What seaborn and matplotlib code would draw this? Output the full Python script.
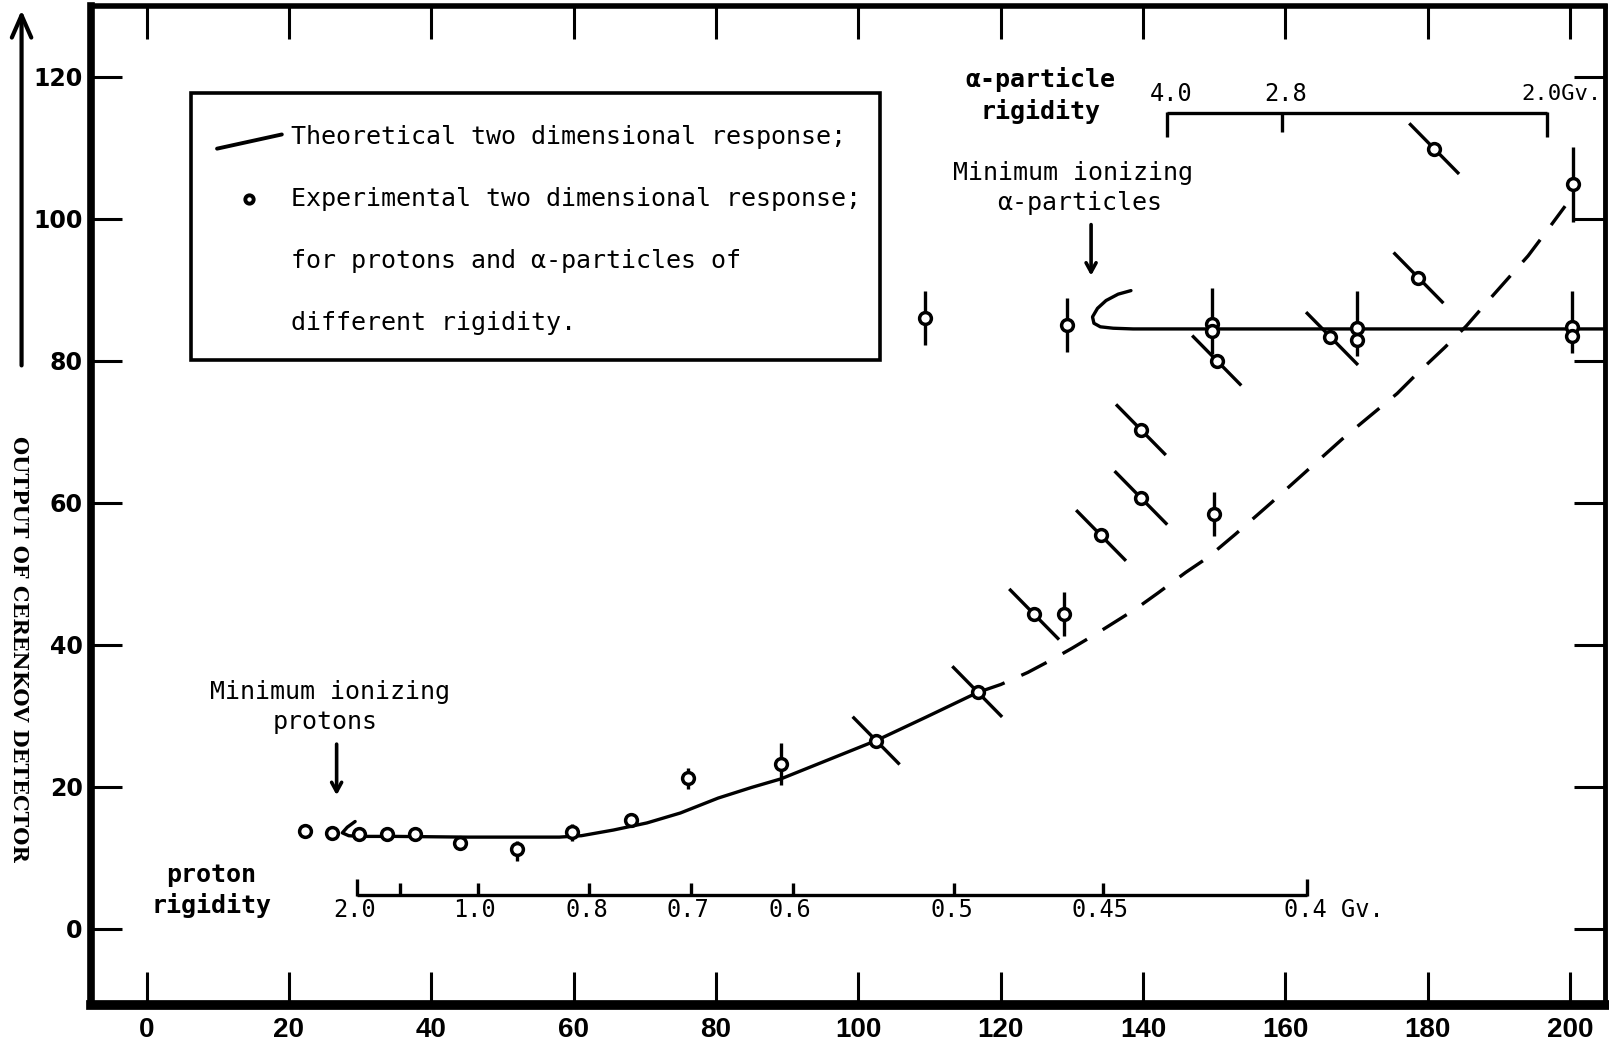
import matplotlib
matplotlib.use("Agg")
import matplotlib.pyplot as plt
from matplotlib import font_manager
from matplotlib.collections import LineCollection
from matplotlib.patches import Rectangle, FancyArrowPatch
import seaborn as sns

# ---------------------------------------------------------------- data
# Theoretical two dimensional response for protons (solid) and its
# extrapolation (dashed)
proton_theory_x = [29.3, 28.2, 27.5, 28.4, 29.8, 35.0, 45.0, 58.0, 61.1, 65.6,
                   70.3, 75.0, 80.3, 85.0, 89.1, 95.8, 102.5, 109.5, 116.8]
proton_theory_y = [15.1, 14.3, 13.5, 13.1, 13.0, 13.0, 12.9, 12.9, 13.1, 13.9,
                   14.9, 16.3, 18.4, 19.9, 21.1, 23.8, 26.5, 29.8, 33.3]
proton_extrap_x = [116.8, 120.0, 123.8, 127.0, 130.0, 133.5, 138.9, 142.1, 146.0,
                   149.1, 153.0, 158.0, 163.0, 168.0, 171.6, 175.7, 178.6, 182.4,
                   185.4, 188.7, 191.0, 194.1, 196.5, 199.3]
proton_extrap_y = [33.3, 34.4, 36.1, 37.8, 39.5, 41.6, 45.0, 47.3, 50.2,
                   52.3, 55.6, 60.0, 64.5, 69.0, 72.0, 75.4, 78.3, 81.9,
                   84.9, 88.7, 91.3, 94.8, 98.0, 101.8]

# Theoretical response for alpha particles
alpha_theory_x = [138.3, 136.5, 134.8, 133.6, 132.9, 133.1, 134.0, 135.8, 138.6,
                  205.0]
alpha_theory_y = [89.9, 89.4, 88.5, 87.4, 86.2, 85.3, 84.8, 84.6, 84.5, 84.5]

# Experimental points without error bars
plain_x = [22.3, 26.0, 44.0, 68.0]
plain_y = [13.8, 13.5, 12.1, 15.3]

# Experimental points with vertical error bars (lower / upper extent)
vbar_x = [29.8, 33.8, 37.7, 52.0, 59.8, 76.1, 89.1, 109.3, 128.9, 129.3,
          149.7, 149.7, 150.0, 170.0, 170.0, 200.3, 200.3, 200.4]
vbar_y = [13.3, 13.3, 13.3, 11.2, 13.6, 21.2, 23.2, 86.1, 44.3, 85.1,
          85.2, 84.2, 58.4, 84.7, 82.9, 84.8, 83.5, 104.9]
vbar_lo = [1.0, 1.0, 1.0, 1.6, 1.2, 1.5, 3.0, 3.8, 3.0, 3.8,
           4.3, 0.0, 3.1, 4.0, 0.0, 3.7, 0.0, 5.3]
vbar_hi = [1.0, 1.0, 1.0, 1.2, 1.2, 1.5, 3.0, 3.8, 3.2, 3.8,
           5.0, 0.0, 3.1, 5.1, 0.0, 5.0, 0.0, 5.3]

# Experimental points with slanted error bars (x half-extent to the upper
# left and to the lower right)
diag_x = [102.5, 116.8, 124.7, 134.1, 139.7, 139.7, 150.4, 166.3, 178.7, 180.9]
diag_y = [26.5, 33.3, 44.3, 55.4, 60.7, 70.3, 80.0, 83.4, 91.7, 109.9]
diag_up = [3.3, 3.6, 3.5, 3.5, 3.7, 3.5, 3.5, 3.4, 3.5, 3.5]
diag_dn = [3.3, 3.4, 3.5, 3.5, 3.7, 3.5, 3.4, 3.9, 3.5, 3.5]

# Secondary rigidity scales
proton_rig_pos = [29.6, 35.6, 46.5, 62.2, 76.5, 90.8, 113.5, 134.4, 163.0]
proton_rig_lab = ["2.0", "", "1.0", "0.8", "0.7", "0.6", "0.5", "0.45", "0.4 Gv."]
alpha_rig_pos = [143.3, 159.5, 196.8]
alpha_rig_lab = ["4.0", "2.8", "2.0Gv."]

x_ticks = list(range(0, 201, 20))
y_ticks = list(range(0, 121, 20))

# ---------------------------------------------------------------- style
sns.set_theme(style="white")
plt.rcParams['font.family'] = ['DejaVu Sans Mono', 'DejaVu Sans']
avail = {f.name for f in font_manager.fontManager.ttflist}
narrow = 'Liberation Sans Narrow' if 'Liberation Sans Narrow' in avail else 'Liberation Sans'
MONO = ['DejaVu Sans Mono', 'DejaVu Sans']
LW = 2.4

fig = plt.figure(figsize=(16.09, 10.52), dpi=100)
ax = fig.add_axes([0.0566, 0.0447, 0.9975 - 0.0566, 0.9943 - 0.0447])
ax.set_xlim(-7.8, 204.9)
ax.set_ylim(-10.75, 130.0)

for side, w in (("left", 5.5), ("bottom", 7.0), ("top", 4.0), ("right", 3.5)):
    ax.spines[side].set_visible(True)
    ax.spines[side].set_color("black")
    ax.spines[side].set_linewidth(w)

ax.set_xticks(x_ticks)
ax.set_yticks(y_ticks)
ax.tick_params(axis="x", direction="in", length=24, width=2.2, top=True,
               bottom=True, pad=9, colors="black")
ax.tick_params(axis="y", direction="in", length=22, width=2.2, left=True,
               right=True, pad=6, colors="black")
for lab in ax.get_xticklabels():
    lab.set_fontfamily(narrow)
    lab.set_fontweight("bold")
    lab.set_fontsize(20)
for lab in ax.get_yticklabels():
    lab.set_fontfamily("DejaVu Sans")
    lab.set_fontweight("bold")
    lab.set_fontsize(17)
ax.grid(False)

# ---------------------------------------------------------------- curves
sns.lineplot(x=proton_theory_x, y=proton_theory_y, sort=False, estimator=None,
             color="black", lw=LW, ax=ax)
sns.lineplot(x=proton_extrap_x, y=proton_extrap_y, sort=False, estimator=None,
             color="black", lw=LW, ax=ax, linestyle=(0, (8.5, 5.5)))
sns.lineplot(x=alpha_theory_x, y=alpha_theory_y, sort=False, estimator=None,
             color="black", lw=LW, ax=ax)

# ---------------------------------------------------------------- error bars
ax.errorbar(vbar_x, vbar_y, yerr=[vbar_lo, vbar_hi], fmt="none",
            ecolor="black", elinewidth=LW, capsize=0, zorder=3)
slope = 1.02
segs = [[(x - u, y + u * slope), (x + d, y - d * slope)]
        for x, y, u, d in zip(diag_x, diag_y, diag_up, diag_dn)]
ax.add_collection(LineCollection(segs, colors="black", linewidths=LW, zorder=3))

# ---------------------------------------------------------------- points
all_x = plain_x + vbar_x + diag_x
all_y = plain_y + vbar_y + diag_y
sns.scatterplot(x=all_x, y=all_y, marker="o", s=72, facecolor="white",
                edgecolor="black", linewidth=2.5, ax=ax, zorder=5)

# ---------------------------------------------------------------- legend box
ax.add_patch(Rectangle((6.2, 80.1), 96.8, 37.6, fill=False, ec="black",
                       lw=2.6, zorder=4))
ax.plot([9.9, 19.0], [109.9, 111.9], color="black", lw=2.8, zorder=5)
ax.plot([14.4], [102.8], marker="o", ms=6, mfc="white", mec="black",
        mew=2.8, zorder=5)
legend_lines = [(111.6, "Theoretical two dimensional response;"),
                (102.8, "Experimental two dimensional response;"),
                (94.1, "for protons and α-particles of"),
                (85.4, "different rigidity.")]
for yy, txt in legend_lines:
    ax.text(20.3, yy, txt, ha="left", va="center", fontsize=18,
            family=MONO, color="black", zorder=6)

# ---------------------------------------------------------------- rigidity scales
ax.plot([proton_rig_pos[0], proton_rig_pos[-1]], [4.7, 4.7], color="black",
        lw=LW, solid_capstyle="butt")
for i, (p, lab) in enumerate(zip(proton_rig_pos, proton_rig_lab)):
    top = 7.0 if i in (0, len(proton_rig_pos) - 1) else 6.4
    ax.plot([p, p], [4.6, top], color="black", lw=LW, solid_capstyle="butt")
    if lab.endswith("Gv."):
        ax.text(p - 3.2, 2.6, lab, ha="left", va="center", fontsize=17,
                family=MONO, color="black")
    elif lab:
        ax.text(p - 0.4, 2.6, lab, ha="center", va="center", fontsize=17,
                family=MONO, color="black")

ax.plot([alpha_rig_pos[0], alpha_rig_pos[-1]], [114.9, 114.9], color="black",
        lw=LW, solid_capstyle="butt")
for i, (p, lab) in enumerate(zip(alpha_rig_pos, alpha_rig_lab)):
    bot = 111.5 if i in (0, len(alpha_rig_pos) - 1) else 112.3
    ax.plot([p, p], [115.0, bot], color="black", lw=LW, solid_capstyle="butt")
    if lab.endswith("Gv."):
        ax.text(p - 3.6, 117.6, lab, ha="left", va="center", fontsize=16,
                family=MONO, color="black")
    else:
        ax.text(p + 0.6, 117.6, lab, ha="center", va="center", fontsize=17,
                family=MONO, color="black")

# ---------------------------------------------------------------- annotations
ax.text(9.1, 7.5, "proton", ha="center", va="center", fontsize=18,
        family=MONO, fontweight="bold", color="black")
ax.text(9.1, 3.3, "rigidity", ha="center", va="center", fontsize=18,
        family=MONO, fontweight="bold", color="black")
ax.text(125.6, 119.6, "α-particle", ha="center", va="center", fontsize=18,
        family=MONO, fontweight="bold", color="black")
ax.text(125.6, 115.2, "rigidity", ha="center", va="center", fontsize=18,
        family=MONO, fontweight="bold", color="black")

ax.text(25.8, 33.3, "Minimum ionizing", ha="center", va="center", fontsize=18,
        family=MONO, color="black")
ax.text(25.1, 29.1, "protons", ha="center", va="center", fontsize=18,
        family=MONO, color="black")
ax.text(130.2, 106.5, "Minimum ionizing", ha="center", va="center",
        fontsize=18, family=MONO, color="black")
ax.text(131.1, 102.2, "α-particles", ha="center", va="center", fontsize=18,
        family=MONO, color="black")

arrow_kw = dict(arrowstyle="->,head_length=0.55,head_width=0.3", lw=2.6,
                color="black", shrinkA=0, shrinkB=0)
ax.annotate("", xy=(26.7, 18.8), xytext=(26.7, 26.0), arrowprops=arrow_kw)
ax.annotate("", xy=(132.7, 92.0), xytext=(132.7, 99.2), arrowprops=arrow_kw)

# y-axis caption with its arrow
fig.text(0.0115, 0.383, "OUTPUT OF CERENKOV DETECTOR", rotation=270,
         ha="center", va="center", fontsize=15, fontweight="bold",
         family="DejaVu Serif", color="black")
fig.add_artist(FancyArrowPatch(
    (0.0134, 0.650), (0.0134, 0.993), transform=fig.transFigure,
    arrowstyle="->,head_length=0.8,head_width=0.35", lw=3.0, color="black",
    mutation_scale=20))

fig.savefig("out.png", dpi=100, facecolor="white")
